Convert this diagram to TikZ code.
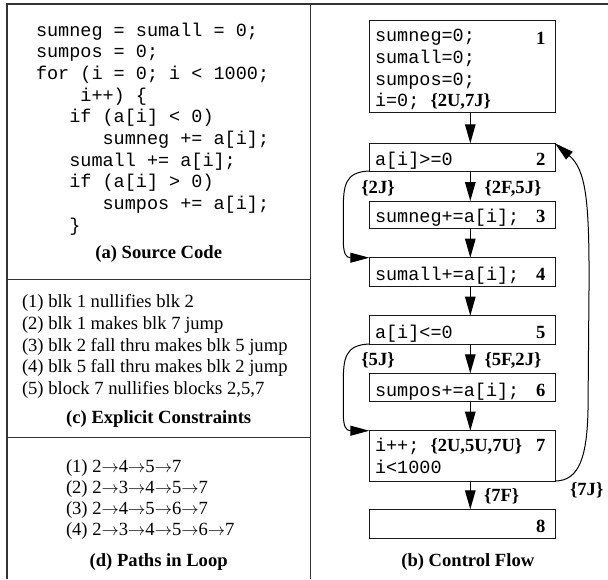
\documentclass[tikz,border=0pt]{standalone}
\usepackage{fontspec}
\setmainfont{Liberation Serif}
\setmonofont{Liberation Mono}
\usetikzlibrary{arrows.meta}

\begin{document}
\begin{tikzpicture}[x=1pt,y=-1pt,
  every node/.style={inner sep=0pt, outer sep=0pt, font=\fontsize{18.6}{21.7}\selectfont},
  code/.style={anchor=base west, font=\fontsize{18.5}{21.7}\selectfont\ttfamily},
  txt/.style={anchor=base west},
  captxt/.style={anchor=base, font=\fontsize{18.6}{21.7}\selectfont\bfseries},
  num/.style={anchor=base east, font=\fontsize{18.6}{21.7}\selectfont\bfseries},
  lab/.style={font=\fontsize{18.6}{21.7}\selectfont\bfseries},
  frame/.style={line width=1.2pt, draw=black!80},
  blk/.style={draw=black!90, line width=1pt, minimum width=185.7pt},
  flow/.style={line width=1.2pt, -{Triangle[length=19pt,width=10.5pt]}},
  loopback/.style={line width=1pt, -{Triangle[length=19pt,width=10pt]}},
]
\useasboundingbox (0,0) rectangle (608,579);

% table rules
\draw[frame] (7,579) -- (7,4) -- (608,4);
\draw[frame] (310.5,4) -- (310.5,579);
\draw[frame] (7,279.5) -- (310.5,279.5);
\draw[frame] (7,437.5) -- (310.5,437.5);

% (a) source code
\node[code] (s1)  at (36,36)      {sumneg = sumall = 0;};
\node[code] (s2)  at (36,57.7)    {sumpos = 0;};
\node[code] (s3)  at (36,79.4)    {for (i = 0; i < 1000;};
\node[code] (s4)  at (80.4,101.1) {i++) \{};
\node[code] (s5)  at (69.3,122.8) {if (a[i] < 0)};
\node[code] (s6)  at (102.6,144.5){sumneg += a[i];};
\node[code] (s7)  at (69.3,166.2) {sumall += a[i];};
\node[code] (s8)  at (69.3,187.9) {if (a[i] > 0)};
\node[code] (s9)  at (102.6,209.6){sumpos += a[i];};
\node[code] (s10) at (69.3,231.3) {\}};
\node[captxt] (capa) at (158.7,258) {(a) Source Code};

% (c) explicit constraints
\node[txt] (c1) at (22,307.5) {(1) blk 1 nullifies blk 2};
\node[txt] (c2) at (22,329.3) {(2) blk 1 makes blk 7 jump};
\node[txt] (c3) at (22,351.1) {(3) blk 2 fall thru makes blk 5 jump};
\node[txt] (c4) at (22,372.9) {(4) blk 5 fall thru makes blk 2 jump};
\node[txt] (c5) at (22,394.7) {(5) block 7 nullifies blocks 2,5,7};
\node[captxt] (capc) at (158.7,423) {(c) Explicit Constraints};

% (d) paths in loop
\node[txt] (d1) at (66,472) {(1) 2$\rightarrow$4$\rightarrow$5$\rightarrow$7};
\node[txt] (d2) at (66,493) {(2) 2$\rightarrow$3$\rightarrow$4$\rightarrow$5$\rightarrow$7};
\node[txt] (d3) at (66,514) {(3) 2$\rightarrow$4$\rightarrow$5$\rightarrow$6$\rightarrow$7};
\node[txt] (d4) at (66,535) {(4) 2$\rightarrow$3$\rightarrow$4$\rightarrow$5$\rightarrow$6$\rightarrow$7};
\node[captxt] (capd) at (158.7,566.5) {(d) Paths in Loop};

% (b) control flow blocks
\node[blk, minimum height=92.7pt] (b1) at (462.15,66.35) {};
\node[blk, minimum height=27.7pt] (b2) at (462.15,157.15) {};
\node[blk, minimum height=27.3pt] (b3) at (462.15,214.65) {};
\node[blk, minimum height=28.3pt] (b4) at (462.15,271.85) {};
\node[blk, minimum height=28.3pt] (b5) at (462.15,329.85) {};
\node[blk, minimum height=28.4pt] (b6) at (462.15,387.5) {};
\node[blk, minimum height=50.3pt] (b7) at (462.15,455.85) {};
\node[blk, minimum height=29pt]   (b8) at (462.15,523.8) {};

% block contents
\node[code] (t1a) at (375,41.7)  {sumneg=0;};
\node[code] (t1b) at (375,63.4)  {sumall=0;};
\node[code] (t1c) at (375,85.1)  {sumpos=0;};
\node[code] (t1d) at (375,106.8) {i=0; {\rmfamily\bfseries\{2U,7J\}}};
\node[code] (t2)  at (375,165.5) {a[i]>=0};
\node[code] (t3)  at (375,222.8) {sumneg+=a[i];};
\node[code] (t4)  at (375,280.5) {sumall+=a[i];};
\node[code] (t5)  at (375,338.5) {a[i]<=0};
\node[code] (t6)  at (375,396)   {sumpos+=a[i];};
\node[code] (t7a) at (375,451)   {i++; {\rmfamily\bfseries\{2U,5U,7U\}}};
\node[code] (t7b) at (375,473.5) {i<1000};

\node[num] (n1) at (545.5,44.5)  {1};
\node[num] (n2) at (545.5,165.7) {2};
\node[num] (n3) at (545.5,222.8) {3};
\node[num] (n4) at (545.5,280.5) {4};
\node[num] (n5) at (545.5,338.5) {5};
\node[num] (n6) at (545.5,396)   {6};
\node[num] (n7) at (545.5,451)   {7};
\node[num] (n8) at (545.5,532.7) {8};

% fall-through edges
\coordinate (ax) at (470.3,0);
\draw[flow] (b1.south -| ax) -- (b2.north -| ax);
\draw[flow] (b2.south -| ax) -- (b3.north -| ax);
\draw[flow] (b3.south -| ax) -- (b4.north -| ax);
\draw[flow] (b4.south -| ax) -- (b5.north -| ax);
\draw[flow] (b5.south -| ax) -- (b6.north -| ax);
\draw[flow] (b6.south -| ax) -- (b7.north -| ax);
\draw[flow] (b7.south -| ax) -- (b8.north -| ax);

% jump edges
\draw[loopback] (b2.south west) .. controls (345,172) and (343.3,185) .. (343.3,210)
  -- (343.3,240) .. controls (343.3,254) and (346,257.7) .. (b4.north west);
\draw[loopback] (b5.south west) .. controls (345,345) and (343.3,358) .. (343.3,383)
  -- (343.3,413) .. controls (343.3,427) and (346,430.7) .. (b7.north west);
\draw[loopback] (b7.south east) .. controls (580,481) and (587,455) .. (588,410)
  -- (589,290) .. controls (589.5,200) and (586,170) .. (b2.north east);

% edge labels
\node[lab, anchor=base]      (l2j) at (378,193.5)   {\{2J\}};
\node[lab, anchor=base west] (l2f) at (484.5,193.5) {\{2F,5J\}};
\node[lab, anchor=base]      (l5j) at (378,365.5)   {\{5J\}};
\node[lab, anchor=base west] (l5f) at (484.5,365.5) {\{5F,2J\}};
\node[lab, anchor=base west] (l7f) at (484,501)     {\{7F\}};
\node[lab, anchor=base]      (l7j) at (586.7,495)   {\{7J\}};

\node[captxt] (capb) at (467.8,566.7) {(b) Control Flow};
\end{tikzpicture}
\end{document}
